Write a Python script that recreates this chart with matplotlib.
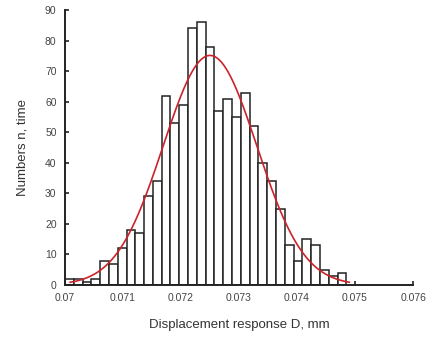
import numpy as np
import matplotlib
matplotlib.use("Agg")
import matplotlib.pyplot as plt

plt.rcParams['font.family'] = ['Liberation Sans', 'DejaVu Sans']

# histogram counts (32 bins)
counts = [2, 2, 1, 2, 8, 7, 12, 18, 17, 29, 34, 62, 53, 59, 84, 86,
          78, 57, 61, 55, 63, 52, 40, 34, 25, 13, 8, 15, 13, 5, 3, 4]
bin_start = 0.0700
bin_end = 0.07485

# normal fit parameters
mu = 0.0725
sigma = 0.000806
fit_lo, fit_hi = 0.07009, 0.0749
n_total = sum(counts)

xticks = [0.07, 0.071, 0.072, 0.073, 0.074, 0.075, 0.076]
xticklabels = ['0.07', '0.071', '0.072', '0.073', '0.074', '0.075', '0.076']
yticks = list(range(0, 91, 10))

edges = np.linspace(bin_start, bin_end, len(counts) + 1)
width = edges[1] - edges[0]

fig = plt.figure(figsize=(4.33, 3.38), dpi=100)
ax = fig.add_axes([0.150, 0.157, 0.804, 0.813])

ax.bar(edges[:-1], counts, width=width, align='edge',
       color='white', edgecolor='#222222', linewidth=1.1, zorder=2)

xs = np.linspace(fit_lo, fit_hi, 300)
ys = n_total * width / (sigma * np.sqrt(2 * np.pi)) * np.exp(-0.5 * ((xs - mu) / sigma) ** 2)
ax.plot(xs, ys, color='#cc2229', linewidth=1.2, zorder=3)

ax.set_xlim(0.07, 0.076)
ax.set_ylim(0, 90)
ax.set_xticks(xticks)
ax.set_xticklabels(xticklabels)
ax.set_yticks(yticks)

for s in ['top', 'right']:
    ax.spines[s].set_visible(False)
for s in ['left', 'bottom']:
    ax.spines[s].set_linewidth(1.4)
    ax.spines[s].set_color('#222222')

ax.tick_params(direction='in', length=3, width=1.2, labelsize=7.5,
               labelcolor='#444444', color='#222222', pad=6)

ax.set_xlabel('Displacement response D, mm', fontsize=9.5, color='#333333', labelpad=11)
ax.set_ylabel('Numbers n, time', fontsize=9.5, color='#333333', labelpad=12)

fig.savefig('out.png', dpi=100)
